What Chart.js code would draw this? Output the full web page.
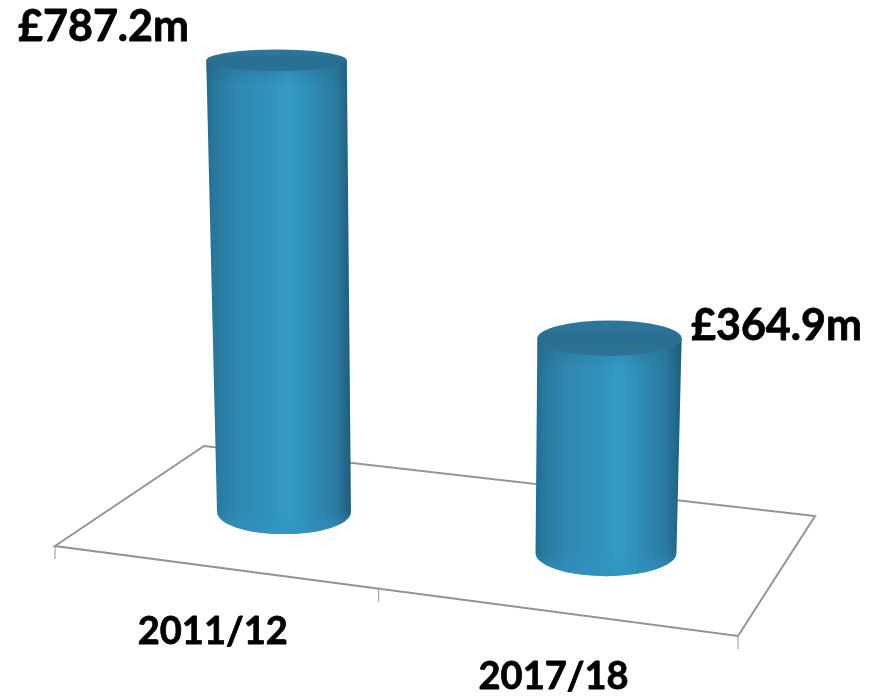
<!DOCTYPE html>
<html lang="en">
<head>
<meta charset="utf-8">
<title>2011/12 vs 2017/18</title>
<script src="https://cdn.jsdelivr.net/npm/chart.js@4"></script>
<style>
    html, body { margin: 0; padding: 0; background: #ffffff; }
    canvas { display: block; }
</style>
</head>
<body>
<canvas id="chart" width="869" height="696"></canvas>
<script>
// Data
const categories = ['2011/12', '2017/18'];
const spending = [787.2, 364.9];

// Value label offset from the top of each cylinder
const LABEL_OFFSETS = [[-173, -33], [167, -12]];

const FONT_VALUE = '700 43px Lato, Carlito, sans-serif';
const FONT_CATEGORY = '700 38px Lato, Carlito, sans-serif';
const FLOOR_COLOR = '#949494';

// Floor outline and perspective of the original 3D view
const FLOOR = { frontLeft: [55, 546], backLeft: [204, 446], backRight: [815, 516], frontRight: [738, 636] };
const TICK_LENGTH = 13;
const CATEGORY_LABEL_DROP = 65;
const FRONT_FORESHORTEN = 1.11;

// Position along the front edge of the floor, u goes 0..1 across the x scale
function frontPoint(u) {
    const t = u / (u + (1 - u) * FRONT_FORESHORTEN);
    const a = FLOOR.frontLeft, b = FLOOR.frontRight;
    return [a[0] + (b[0] - a[0]) * t, a[1] + (b[1] - a[1]) * t];
}

function capRadiusY(y) {
    return 9.3 + 0.025 * y;
}

// Turn a flat bar into the cylinder seen in perspective
function projectBar(bar, x0, spacing) {
    const depth = (bar.x - x0) / spacing;
    const stretch = 1 + 0.026 * depth;
    const baseY = bar.base + 41 * depth;
    const topY = baseY - (bar.base - bar.y) * stretch;
    const h = baseY - topY;
    const baseW = bar.width * (1 + 0.052 * depth);
    const topW = baseW * (1 + 0.00011 * h);
    const topX = bar.x + 0.000102 * (bar.x - 446) * h;
    return { baseX: bar.x, baseY, baseW, topX, topY, topW };
}

function drawCylinder(ctx, c) {
    const rb = capRadiusY(c.baseY);
    const rt = capRadiusY(c.topY);
    const left = Math.min(c.topX - c.topW / 2, c.baseX - c.baseW / 2);
    const right = Math.max(c.topX + c.topW / 2, c.baseX + c.baseW / 2);

    const sidePath = () => {
        ctx.beginPath();
        ctx.moveTo(c.topX - c.topW / 2, c.topY);
        ctx.lineTo(c.baseX - c.baseW / 2, c.baseY);
        ctx.ellipse(c.baseX, c.baseY, c.baseW / 2, rb, 0, Math.PI, 0, true);
        ctx.lineTo(c.topX + c.topW / 2, c.topY);
        ctx.closePath();
    };

    const side = ctx.createLinearGradient(left, 0, right, 0);
    side.addColorStop(0, '#226c90');
    side.addColorStop(0.05, '#28779c');
    side.addColorStop(0.2, '#2f87af');
    side.addColorStop(0.42, '#3192bc');
    side.addColorStop(0.58, '#359cc7');
    side.addColorStop(0.74, '#2f8ab2');
    side.addColorStop(0.9, '#2a7a9f');
    side.addColorStop(1, '#1e5c7a');
    sidePath();
    ctx.fillStyle = side;
    ctx.fill();

    // lighter rim at the foot of the cylinder
    const foot = ctx.createLinearGradient(0, c.baseY - rb * 0.1, 0, c.baseY + rb);
    foot.addColorStop(0, 'rgba(46,146,192,0)');
    foot.addColorStop(1, 'rgba(46,146,192,0.75)');
    sidePath();
    ctx.fillStyle = foot;
    ctx.fill();

    // shade just under the cap
    const neck = ctx.createLinearGradient(0, c.topY, 0, c.topY + rt + 16);
    neck.addColorStop(0, 'rgba(28,90,125,0.35)');
    neck.addColorStop(1, 'rgba(28,90,125,0)');
    sidePath();
    ctx.fillStyle = neck;
    ctx.fill();

    const cap = ctx.createLinearGradient(0, c.topY - rt, 0, c.topY + rt);
    cap.addColorStop(0, '#2e789c');
    cap.addColorStop(0.5, '#296e91');
    cap.addColorStop(1, '#2b7397');
    ctx.beginPath();
    ctx.ellipse(c.topX, c.topY, c.topW / 2, rt, 0, 0, Math.PI * 2);
    ctx.fillStyle = cap;
    ctx.fill();
}

const cylinderPlugin = {
    id: 'cylinders',
    beforeDatasetsDraw(chart) {
        const ctx = chart.ctx;
        ctx.save();
        ctx.strokeStyle = FLOOR_COLOR;
        ctx.lineWidth = 2;
        ctx.lineJoin = 'miter';
        ctx.beginPath();
        ctx.moveTo(...FLOOR.frontLeft);
        ctx.lineTo(...FLOOR.backLeft);
        ctx.lineTo(...FLOOR.backRight);
        ctx.lineTo(...FLOOR.frontRight);
        ctx.closePath();
        ctx.stroke();

        ctx.lineWidth = 1;
        categories.concat('').forEach((_, i) => {
            const p = frontPoint(i / categories.length);
            ctx.beginPath();
            ctx.moveTo(p[0], p[1]);
            ctx.lineTo(p[0], p[1] + TICK_LENGTH);
            ctx.stroke();
        });
        ctx.restore();
    },
    afterDatasetsDraw(chart) {
        const ctx = chart.ctx;
        const bars = chart.getDatasetMeta(0).data;
        const spacing = bars[1].x - bars[0].x;

        ctx.save();
        ctx.textAlign = 'center';
        ctx.textBaseline = 'middle';
        ctx.lineJoin = 'round';

        bars.forEach((bar, i) => {
            const c = projectBar(bar, bars[0].x, spacing);
            drawCylinder(ctx, c);

            // the reference font is a touch heavier than Lato Bold
            ctx.fillStyle = '#000000';
            ctx.strokeStyle = '#000000';
            ctx.lineWidth = 0.8;
            const valueText = '£' + spending[i].toFixed(1) + 'm';
            ctx.font = FONT_VALUE;
            ctx.fillText(valueText, c.topX + LABEL_OFFSETS[i][0], c.topY + LABEL_OFFSETS[i][1]);
            ctx.strokeText(valueText, c.topX + LABEL_OFFSETS[i][0], c.topY + LABEL_OFFSETS[i][1]);

            const p = frontPoint((i + 0.5) / categories.length);
            ctx.font = FONT_CATEGORY;
            ctx.fillText(categories[i], p[0], p[1] + CATEGORY_LABEL_DROP);
            ctx.strokeText(categories[i], p[0], p[1] + CATEGORY_LABEL_DROP);
        });
        ctx.restore();
    }
};

new Chart(document.getElementById('chart').getContext('2d'), {
    type: 'bar',
    data: {
        labels: categories,
        datasets: [{
            data: spending,
            backgroundColor: 'rgba(0,0,0,0)',
            barPercentage: 0.416,
            categoryPercentage: 1
        }]
    },
    options: {
        responsive: false,
        animation: false,
        layout: { padding: { left: 123, right: 102, top: 53, bottom: 184 } },
        plugins: { legend: { display: false }, tooltip: { enabled: false } },
        scales: {
            x: { display: false },
            y: { display: false, min: 0, max: 800 }
        }
    },
    plugins: [cylinderPlugin]
});
</script>
</body>
</html>
